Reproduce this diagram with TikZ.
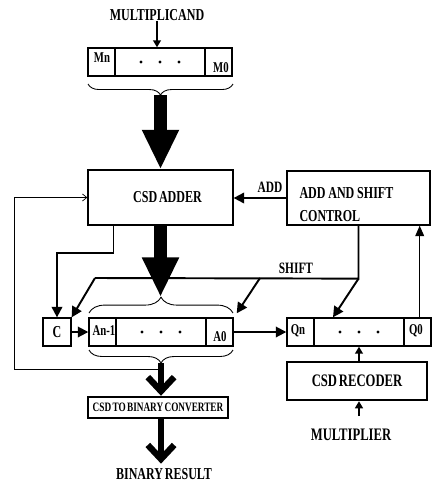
\documentclass[tikz,border=0pt]{standalone}
\usepackage{fontspec}
\newfontfamily\condfont{Liberation Serif}[FakeStretch=0.72, WordSpace=0.6]
\usetikzlibrary{arrows.meta}
\usetikzlibrary{decorations.pathreplacing}

\begin{document}
\begin{tikzpicture}[x=0.02cm, y=-0.02cm]
  \def\px{0.02cm}
  \tikzset{
    lbl/.style={font=\condfont\bfseries\fontsize{9.5}{13}\selectfont, inner sep=0pt},
    cell/.style={font=\condfont\bfseries\fontsize{8.5}{10}\selectfont, inner sep=0pt},
    unit/.style={draw, line width=0.7pt, inner sep=0pt, lbl},
    heavyunit/.style={draw, line width=1.4pt, inner sep=0pt, lbl},
    reg/.style={draw, line width=0.8pt, inner sep=0pt, minimum width=144*\px, minimum height=28*\px},
    wire/.style={line width=1.1pt, -{Triangle[length=6pt,width=6pt]}},
    smallwire/.style={line width=0.9pt, -{Triangle[length=4pt,width=4.5pt]}},
    bus/.style={line width=7.4pt, -{Triangle[length=22.5pt,width=19.5pt]}},
    chev/.style={line width=3.6pt, -{Straight Barb[length=8pt,width=15pt]}},
    fb/.style={line width=0.4pt},
    curly/.style={decorate, decoration={brace, amplitude=#1}, line width=0.5pt},
  }
  \useasboundingbox (0,0) rectangle (435,484);

  %--- registers: M, A, Q (box, two dividers, three dots) ---
  \foreach \r/\lx/\ty in {M/88/48, A/89/318, Q/287/318} {
    \node[reg] (\r) at (\lx+72, \ty+14) {};
    \draw[line width=0.6pt] (\lx+27, \ty) -- (\lx+27, \ty+28);
    \draw[line width=0.6pt] (\lx+117, \ty) -- (\lx+117, \ty+28);
    \foreach \d in {53,72,91}
      \fill (\lx+\d, \ty+14) circle (0.9pt);
  }
  \node[cell] (Mn) at (102,58)  {Mn};
  \node[cell] (M0) at (221,68)  {M0};
  \node[cell] (An) at (104,331) {An-1};
  \node[cell] (A0) at (220,337) {A0};
  \node[cell] (Qn) at (298,331) {Qn};
  \node[cell] (Q0) at (416,331) {Q0};

  %--- boxes ---
  \node[unit, minimum width=28*\px, minimum height=28*\px] (C) at (57,332) {C};
  \node[unit, minimum width=145*\px, minimum height=55*\px] (adder) at (160.5,197.5) {\hspace*{8pt}CSD ADDER};
  \node[unit, minimum width=143*\px, minimum height=54*\px, text width=118*\px, align=left]
    (ctrl) at (358.5,198) {\spaceskip=.17em\relax\rule{0pt}{14pt}ADD AND SHIFT\\CONTROL};
  \node[heavyunit, minimum width=140*\px, minimum height=21*\px,
        font=\condfont\bfseries\fontsize{7.3}{9}\selectfont] (conv) at (158,407.5) {CSD TO BINARY CONVERTER};
  \node[heavyunit, minimum width=140*\px, minimum height=38*\px,
        font=\condfont\bfseries\fontsize{10}{12}\selectfont] (rec) at (357,381) {CSD RECODER};

  %--- outside labels ---
  \node[lbl] (mcand)  at (157,15)  {MULTIPLICAND};
  \node[lbl, font=\condfont\bfseries\fontsize{10}{12}\selectfont] (mplier) at (351,435) {MULTIPLIER};
  \node[lbl] (result) at (164,474) {BINARY RESULT};
  \node[lbl, font=\condfont\bfseries\fontsize{9}{11}\selectfont] (addlbl) at (270,187) {ADD};
  \node[lbl, font=\condfont\bfseries\fontsize{9}{11}\selectfont] (shiftlbl) at (296,268) {SHIFT};

  %--- braces ---
  \draw[curly=6.3pt] (233,84) -- (88,84);
  \draw[curly=9pt]   (89,313) -- (233,313);
  \draw[curly=7.4pt] (233,350) -- (89,350);
  \coordinate (Mtip) at (160.5,95);
  \coordinate (Atip) at (160.5,297);
  \coordinate (Abot) at (161,363);
  \coordinate (fbk)  at (161,369);

  %--- data paths ---
  \draw[smallwire] (mcand.south) -- (mcand.south |- M.north);
  \draw[bus] (Mtip) -- (adder.north);
  \draw[bus] (adder.south) -- (Atip);
  \draw[chev] (Abot) -- (Abot |- conv.north);
  \draw[chev, shorten >=2.5pt] (Abot |- conv.south) -- (Abot |- result.north);
  \draw[wire] (C.east) -- (A.west);
  \draw[wire] (A.east) -- (Q.west);
  \draw[wire] ([xshift=-47*\px]adder.south) -- ++(0,27) -| (C.north);
  \draw[wire] (ctrl.west) -- (ctrl.west -| adder.east);

  %--- feedback to adder ---
  \draw[fb, -{Straight Barb[length=2.5pt,width=4pt]}] (fbk) -- (14,369) |- (adder.west);

  %--- shift lines ---
  \draw[line width=1.1pt] (ctrl.south) -- ++(0,53) coordinate (s3) -- (95,278) coordinate (s1);
  \coordinate (s2) at (260,278);
  \draw[wire] (s1) -- (C.north east);
  \draw[wire] (s2) -- ([shift={(3,-4)}]A.north east);
  \draw[wire] (s3) -- ([xshift=-26*\px]Q.north);

  %--- recoder and Q0 ---
  \draw[smallwire] (Q.south |- rec.north) -- (Q.south);
  \coordinate (mpin) at (359,416);
  \draw[smallwire] (mpin) -- (mpin |- rec.south);
  \draw[line width=0.7pt, -{Triangle[length=6pt,width=5pt]}]
    ([xshift=-12*\px]Q.north east) -- ([xshift=-12*\px]Q.north east |- ctrl.south);
\end{tikzpicture}
\end{document}
